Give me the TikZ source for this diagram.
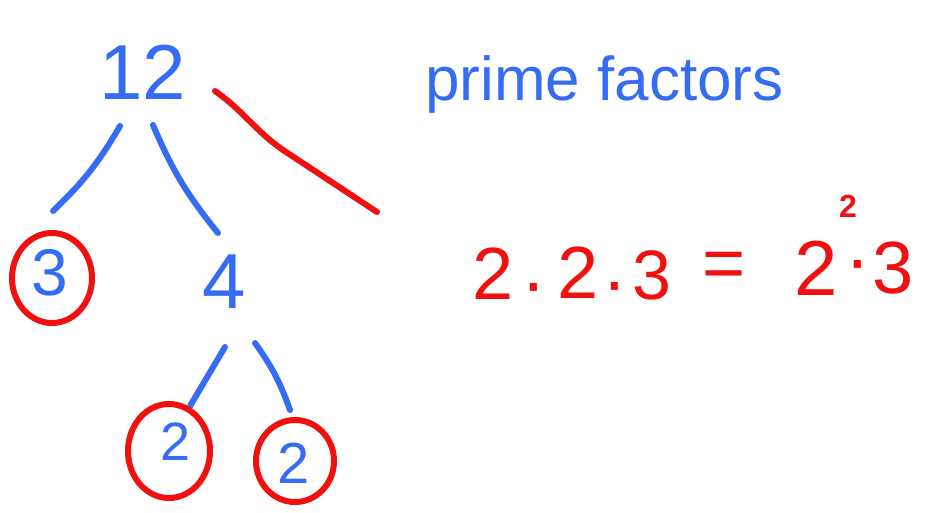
\documentclass[tikz,border=0pt]{standalone}
\usepackage{fontspec}
\setmainfont{Liberation Sans}
\usetikzlibrary{calc}
\definecolor{penblue}{RGB}{52,108,246}
\definecolor{penred}{RGB}{240,16,16}
\tikzset{
  blueink/.style={draw=penblue,line width=6pt,line cap=round,line join=round},
  redink/.style={draw=penred,line width=6pt,line cap=round,line join=round},
  bluenum/.style={text=penblue,inner sep=0pt,font=\fontsize{#1}{#1}\selectfont},
  rednum/.style={text=penred,inner sep=0pt,font=\fontsize{#1}{#1}\selectfont},
}
\begin{document}
\begin{tikzpicture}[x=1pt,y=-1pt]
      \useasboundingbox (0,0) rectangle (927,512);
      % the tree
      \node[bluenum=78] (t12) at (143,72) {12};
      \node[bluenum=66] (t3) at (50,273) {3};
      \node[bluenum=78] (t4) at (224,282) {4};
      \node[bluenum=54] (t2a) at (176,442) {2};
      \node[bluenum=58] (t2b) at (294,463) {2};
      \draw[blueink] ($(t12)+(-23,54)$) to[bend left=8] ($(t3)+(3,-62)$);
      \draw[blueink] ($(t12)+(10,53)$) to[bend right=8] ($(t4)+(-6,-49)$);
      \draw[blueink] ($(t4)+(1,65)$) -- ($(t4)+(-34,124)$);
      \draw[blueink] ($(t4)+(31,61)$) to[bend left=8] ($(t4)+(66,128)$);
      \draw[redink] ($(t12)+(72,19)$) to[out=-35,in=145] ($(t12)+(140,78)$) -- ($(t12)+(234,140)$);
      % circled primes
      \draw[redink] ($(t3)+(2,5)$) ellipse (40pt and 45pt);
      \draw[redink] ($(t2a)+(-7,9)$) ellipse (41pt and 47pt);
      \draw[redink] ($(t2b)+(1,-2)$) ellipse (39pt and 41pt);
      % title
      \node[text=penblue,inner sep=0pt,font=\fontsize{62}{62}\selectfont,anchor=base west] (title) at (425,100) {prime factors};
      % the product
      \node[rednum=74] (e1) at (493,274) {2};
      \node[rednum=74] (d1) at (534,295) {·};
      \node[rednum=74] (e2) at (578,273) {2};
      \node[rednum=74] (d2) at (615,294) {·};
      \node[rednum=70] (e3) at (652,275) {3};
      \node[rednum=74] (eq) at (724,270) {=};
      \node[rednum=78] (e4) at (816,268) {2};
      \node[rednum=32,font=\bfseries\fontsize{32}{32}\selectfont] (ex) at (848,206) {2};
      \node[rednum=74] (d3) at (858,272) {·};
      \node[rednum=74] (e5) at (893,268) {3};
\end{tikzpicture}
\end{document}
